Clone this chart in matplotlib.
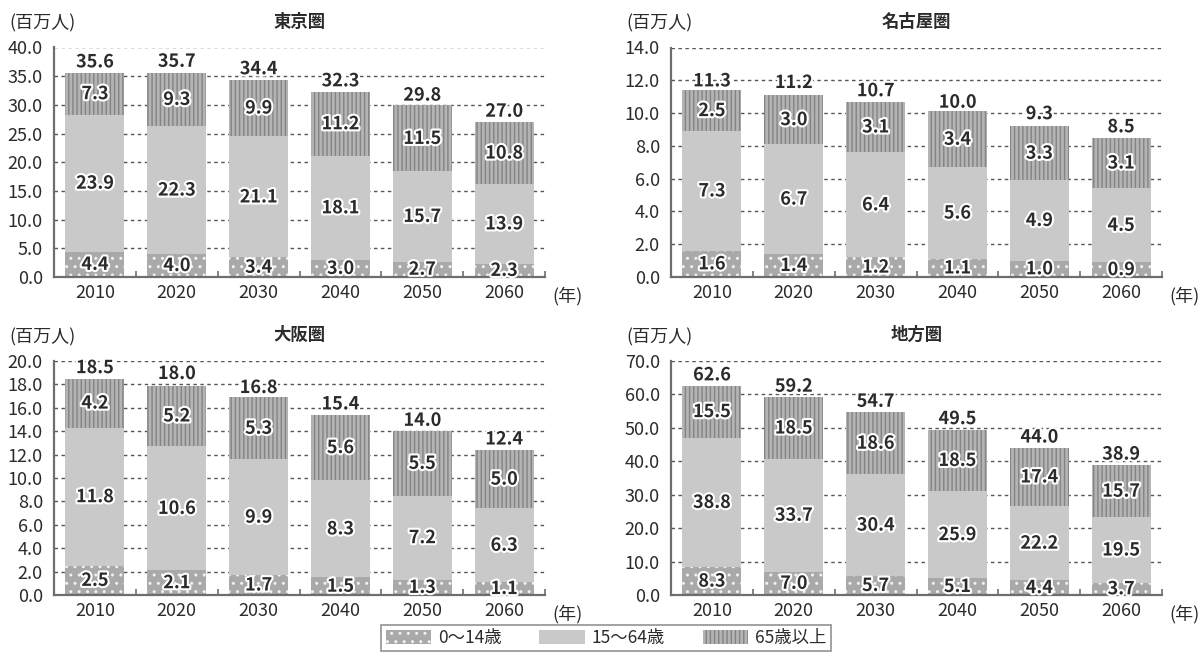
import matplotlib
matplotlib.use("Agg")
import matplotlib.pyplot as plt
import matplotlib.patheffects as pe
from matplotlib.patches import Patch
import numpy as np

plt.rcParams['font.family'] = ['Noto Sans CJK JP', 'DejaVu Sans']
plt.rcParams['hatch.linewidth'] = 1.0

years = ["2010", "2020", "2030", "2040", "2050", "2060"]
age_groups = ["0～14歳", "15～64歳", "65歳以上"]

tokyo_young = [4.4, 4.0, 3.4, 3.0, 2.7, 2.3]
tokyo_working = [23.9, 22.3, 21.1, 18.1, 15.7, 13.9]
tokyo_old = [7.3, 9.3, 9.9, 11.2, 11.5, 10.8]
tokyo_total = [35.6, 35.7, 34.4, 32.3, 29.8, 27.0]

nagoya_young = [1.6, 1.4, 1.2, 1.1, 1.0, 0.9]
nagoya_working = [7.3, 6.7, 6.4, 5.6, 4.9, 4.5]
nagoya_old = [2.5, 3.0, 3.1, 3.4, 3.3, 3.1]
nagoya_total = [11.3, 11.2, 10.7, 10.0, 9.3, 8.5]

osaka_young = [2.5, 2.1, 1.7, 1.5, 1.3, 1.1]
osaka_working = [11.8, 10.6, 9.9, 8.3, 7.2, 6.3]
osaka_old = [4.2, 5.2, 5.3, 5.6, 5.5, 5.0]
osaka_total = [18.5, 18.0, 16.8, 15.4, 14.0, 12.4]

local_young = [8.3, 7.0, 5.7, 5.1, 4.4, 3.7]
local_working = [38.8, 33.7, 30.4, 25.9, 22.2, 19.5]
local_old = [15.5, 18.5, 18.6, 18.5, 17.4, 15.7]
local_total = [62.6, 59.2, 54.7, 49.5, 44.0, 38.9]

TEXT = "#2b2b2b"
AXIS = "#6e6e6e"
GRID = "#555555"
W, H = 1204, 657

# segment styles: face colour, hatch, hatch colour
STYLES = [
    dict(facecolor="#a9a9a9", hatch="..", edgecolor="#f0f0f0"),
    dict(facecolor="#c9c9c9", hatch=None, edgecolor="#c9c9c9"),
    dict(facecolor="#b4b4b4", hatch="||||", edgecolor="#848484"),
]

# title, data, y max, y step, axes box (px: left, top, right, bottom)
panels = [
    ("東京圏", tokyo_young, tokyo_working, tokyo_old, tokyo_total, 40, 5, (54, 47.5, 545, 277)),
    ("名古屋圏", nagoya_young, nagoya_working, nagoya_old, nagoya_total, 14, 2, (671, 47.5, 1162, 277)),
    ("大阪圏", osaka_young, osaka_working, osaka_old, osaka_total, 20, 2, (54, 361, 545, 595)),
    ("地方圏", local_young, local_working, local_old, local_total, 70, 10, (671, 361, 1162, 595)),
]

fig = plt.figure(figsize=(W / 100, H / 100), dpi=100)
outline = [pe.withStroke(linewidth=3, foreground="white")]

for title, young, working, old, total, ymax, step, (l, t, r, b) in panels:
    ax = fig.add_axes([l / W, 1 - b / H, (r - l) / W, (b - t) / H])
    x = np.arange(len(years))
    bottom = np.zeros(len(years))
    for vals, st in zip([young, working, old], STYLES):
        vals = np.array(vals)
        ax.bar(x, vals, width=0.72, bottom=bottom, linewidth=0, zorder=2, **st)
        for xi, b0, v in zip(x, bottom, vals):
            ax.text(xi, b0 + v / 2, f"{v:.1f}", ha="center", va="center",
                    fontsize=13, fontweight="bold", color=TEXT,
                    path_effects=outline, zorder=4)
        bottom = bottom + vals
    for xi, tot in zip(x, total):
        ax.annotate(f"{tot:.1f}", (xi, tot), xytext=(0, 1), textcoords="offset points",
                    ha="center", va="bottom", fontsize=13, fontweight="bold",
                    color=TEXT, path_effects=outline, zorder=4)

    ax.set_xlim(-0.5, len(years) - 0.5)
    ax.set_ylim(0, ymax)
    ticks = np.arange(0, ymax + step / 2, step)
    ax.set_yticks(ticks)
    ax.set_yticklabels([f"{v:.1f}" for v in ticks])
    for v in ticks[1:]:
        ax.axhline(v, color=GRID, lw=1.0, ls=(0, (2.5, 2.5)), zorder=1)
    ax.set_xticks(x)
    ax.set_xticklabels(years)
    ax.set_xticks(np.arange(0.5, len(years), 1.0), minor=True)
    ax.tick_params(axis="x", which="major", length=0, pad=5, labelsize=13, colors=TEXT)
    ax.tick_params(axis="x", which="minor", direction="in", length=4, width=1.2, color=AXIS)
    ax.tick_params(axis="y", length=0, pad=8, labelsize=13, colors=TEXT)
    for s in ["top", "right"]:
        ax.spines[s].set_visible(False)
    for s in ["left", "bottom"]:
        ax.spines[s].set_color(AXIS)
        ax.spines[s].set_linewidth(1.6)
    ax.set_title(title, fontsize=12.5, fontweight="bold", color=TEXT, pad=15)
    fig.text((l - 45) / W, 1 - (t - 15) / H, "(百万人)", fontsize=13,
             color=TEXT, ha="left", va="bottom")
    fig.text((r + 7) / W, 1 - (b + 19) / H, "(年)", fontsize=13,
             color=TEXT, ha="left", va="center")

handles = [Patch(label=lab, linewidth=0, **st) for lab, st in zip(age_groups, STYLES)]
leg = fig.legend(handles=handles, loc="center", bbox_to_anchor=(606 / W, 1 - 638 / H),
                 ncol=3, frameon=True, fancybox=False, fontsize=12.5, handlelength=2.6,
                 handleheight=0.9, columnspacing=2.2, handletextpad=0.4,
                 borderpad=0.25, edgecolor="#777777")
leg.get_frame().set_linewidth(1.2)
for txt in leg.get_texts():
    txt.set_color(TEXT)

fig.savefig("out.png", dpi=100)
